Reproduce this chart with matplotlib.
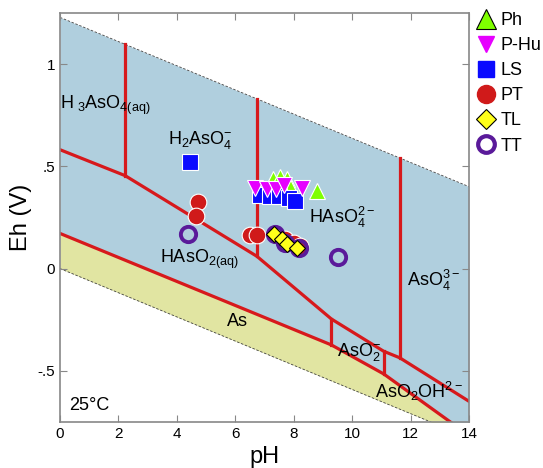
import numpy as np
import matplotlib
matplotlib.use("Agg")
import matplotlib.pyplot as plt
from matplotlib.lines import Line2D

plt.rcParams['font.family'] = ['Liberation Sans', 'DejaVu Sans']
plt.rcParams['mathtext.default'] = 'regular'

# ---- boundaries (pH, Eh) ----
redox_pH = [0, 2.23, 6.74, 9.29, 11.08, 11.63, 14]
redox_Eh = [0.582, 0.455, 0.06, -0.247, -0.405, -0.437, -0.65]
as_pH = [0, 9.29, 11.08, 13.35, 14]
as_Eh = [0.172, -0.374, -0.516, -0.75, -0.816]
vert_pH = [2.23, 6.74, 11.63, 9.29, 11.08]
vert_lo = [0.455, 0.06, -0.437, -0.374, -0.516]
vert_hi = [None, None, None, -0.247, -0.405]

# ---- samples ----
ph_pH = [7.3, 7.54, 7.77, 7.89, 8.8]
ph_Eh = [0.44, 0.45, 0.44, 0.40, 0.378]
phu_pH = [6.68, 7.09, 7.4, 7.66, 8.28]
phu_Eh = [0.395, 0.39, 0.39, 0.41, 0.395]
ls_pH = [4.46, 6.86, 7.2, 7.48, 7.83, 8.06]
ls_Eh = [0.52, 0.362, 0.354, 0.354, 0.346, 0.33]
pt_pH = [4.73, 4.67, 6.51, 6.74, 7.71, 8.0, 8.23]
pt_Eh = [0.324, 0.256, 0.164, 0.164, 0.143, 0.127, 0.11]
tl_pH = [7.31, 7.6, 7.77, 8.11]
tl_Eh = [0.167, 0.143, 0.118, 0.102]
tt_pH = [4.38, 7.37, 7.71, 8.17, 9.5]
tt_Eh = [0.17, 0.167, 0.127, 0.102, 0.055]

def w_hi(p):
    return 1.23 - 0.0592 * np.asarray(p)

def w_lo(p):
    return -0.0592 * np.asarray(p)

fig = plt.figure(figsize=(5.43, 4.68), dpi=100)
ax = fig.add_axes([0.1105, 0.0989, 0.7532, 0.8727])

x = np.linspace(0, 14, 400)
as_y = np.interp(x, as_pH, as_Eh)
ax.fill_between(x, as_y, w_hi(x), color='#b0cfde', lw=0, zorder=0)
ax.fill_between(x, w_lo(x), as_y, color='#e1e5a2', lw=0, zorder=0)
ax.plot(x, w_hi(x), ls=(0, (3, 2)), color='#444444', lw=0.6, zorder=1)
ax.plot(x, w_lo(x), ls=(0, (3, 2)), color='#444444', lw=0.6, zorder=1)

red = '#d7191c'
ax.plot(redox_pH, redox_Eh, color=red, lw=2.3, zorder=2)
ax.plot(as_pH, as_Eh, color=red, lw=2.3, zorder=2)
for p, lo, hi in zip(vert_pH, vert_lo, vert_hi):
    top = float(w_hi(p)) if hi is None else hi
    ax.plot([p, p], [lo, top], color=red, lw=2.3, zorder=2)

fs = 13
ax.text(0.0, 0.8, 'H$_{\\ 3}$AsO$_{4(aq)}$', fontsize=fs, ha='left', va='center')
ax.text(4.8, 0.63, 'H$_2$AsO$_4^{-}$', fontsize=fs, ha='center', va='center')
ax.text(9.67, 0.25, 'HAsO$_4^{2-}$', fontsize=fs, ha='center', va='center')
ax.text(12.8, -0.06, 'AsO$_4^{3-}$', fontsize=fs, ha='center', va='center')
ax.text(4.77, 0.045, 'HAsO$_{2(aq)}$', fontsize=fs, ha='center', va='center')
ax.text(6.07, -0.26, 'As', fontsize=fs, ha='center', va='center')
ax.text(10.25, -0.41, 'AsO$_2^{-}$', fontsize=fs, ha='center', va='center')
ax.text(12.3, -0.6, 'AsO$_2$OH$^{2-}$', fontsize=fs, ha='center', va='center')
ax.text(0.3, -0.67, '25°C', fontsize=fs, ha='left', va='center')

ms = 12
ax.plot(ph_pH, ph_Eh, ls='none', marker='^', ms=ms, mfc='#7fff00', mec='white', mew=0.8, zorder=5)
ax.plot(ls_pH, ls_Eh, ls='none', marker='s', ms=ms - 1, mfc='#0a0aff', mec='white', mew=0.8, zorder=5)
ax.plot(phu_pH, phu_Eh, ls='none', marker='v', ms=ms, mfc='#e600ff', mec='white', mew=0.8, zorder=6)
ax.plot(pt_pH, pt_Eh, ls='none', marker='o', ms=ms, mfc='#d01a1a', mec='white', mew=0.8, zorder=5)
ax.plot(tt_pH, tt_Eh, ls='none', marker='o', ms=ms - 1, mfc='none', mec='#5a1a9a', mew=2.8, zorder=6)
ax.plot(tl_pH, tl_Eh, ls='none', marker='D', ms=ms - 4, mfc='#ffff1a', mec='black', mew=0.8, zorder=7)

ax.set_xlim(0, 14)
ax.set_ylim(-0.75, 1.25)
ax.set_xticks(range(0, 15, 2))
ax.set_yticks([-0.5, 0, 0.5, 1])
ax.set_yticklabels(['-.5', '0', '.5', '1'])
ax.tick_params(direction='in', top=True, right=True, length=5, color='#888888', labelsize=11)
for s in ax.spines.values():
    s.set_color('#888888')
    s.set_linewidth(1.2)
ax.set_xlabel('pH', fontsize=17)
ax.set_ylabel('Eh (V)', fontsize=17)

handles = [
    Line2D([], [], ls='none', marker='^', ms=14, mfc='#7fff00', mec='black', mew=0.8),
    Line2D([], [], ls='none', marker='v', ms=11, mfc='#e600ff', mec='#e600ff'),
    Line2D([], [], ls='none', marker='s', ms=11, mfc='#0a0aff', mec='#0a0aff'),
    Line2D([], [], ls='none', marker='o', ms=13, mfc='#d01a1a', mec='#d01a1a'),
    Line2D([], [], ls='none', marker='D', ms=10, mfc='#ffff1a', mec='black', mew=0.8),
    Line2D([], [], ls='none', marker='o', ms=12, mfc='none', mec='#5a1a9a', mew=3),
]
labels = ['Ph', 'P-Hu', 'LS', 'PT', 'TL', 'TT']
fig.legend(handles, labels, loc='upper left', bbox_to_anchor=(0.865, 0.99),
           frameon=False, fontsize=13, handlelength=1.0, handletextpad=0.3,
           labelspacing=0.45, borderaxespad=0)

fig.savefig('out.png', dpi=100)
